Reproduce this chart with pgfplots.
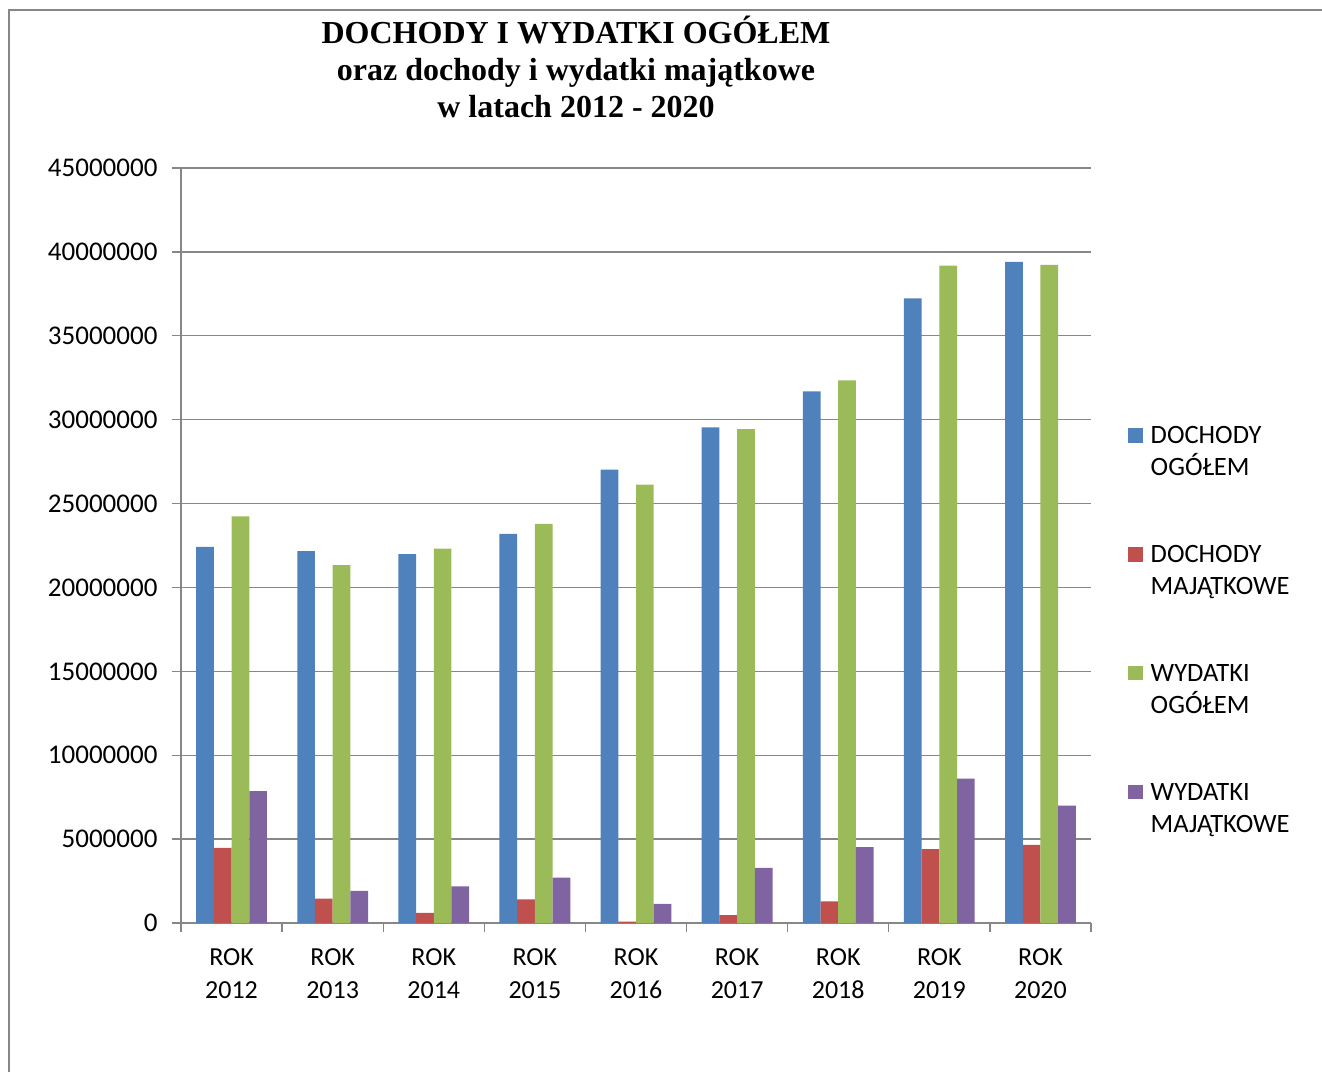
\documentclass[border=0pt]{standalone}
\usepackage{fontspec}
\setmainfont{Carlito}
\newfontfamily\titlefont{Liberation Serif}
\usepackage{pgfplots}
\usepackage{pgfplotstable}
\pgfplotsset{compat=1.18}

\definecolor{cblue}{HTML}{4F81BD}
\definecolor{cred}{HTML}{C0504D}
\definecolor{cgreen}{HTML}{9BBB59}
\definecolor{cpurple}{HTML}{8064A2}
\definecolor{gridgray}{HTML}{878787}

% idx: 0 = 2012 ... 8 = 2020
\pgfplotstableread{
idx dochog dochmaj wydog wydmaj
0 22420000 4480000 24230000 7860000
1 22160000 1450000 21330000 1920000
2 21980000  600000 22320000 2180000
3 23190000 1410000 23790000 2700000
4 27020000   80000 26130000 1140000
5 29540000  470000 29440000 3290000
6 31690000 1290000 32340000 4530000
7 37230000 4400000 39180000 8600000
8 39410000 4660000 39230000 6990000
}\dane

\begin{document}
\begin{tikzpicture}
\begin{axis}[
    at={(181pt,149pt)}, anchor=south west,
    scale only axis,
    width=910pt, height=755pt,
    ybar=0pt, bar width=17.7pt,
    legend image code/.code={\draw[#1,/tikz/.cd,draw=none] (0pt,1pt) rectangle (14.5pt,15.5pt);},
    xmin=-0.5, xmax=8.5,
    ymin=0, ymax=45000000,
    ytick={0,5000000,...,45000000},
    scaled y ticks=false,
    yticklabel style={/pgf/number format/.cd, fixed, 1000 sep={}, assume math mode=true,
        /tikz/.cd, font=\fontsize{27}{33}\selectfont, xshift=-11pt},
    xtick={0,...,8},
    xticklabels={{ROK\\2012},{ROK\\2013},{ROK\\2014},{ROK\\2015},{ROK\\2016},{ROK\\2017},{ROK\\2018},{ROK\\2019},{ROK\\2020}},
    xticklabel style={align=center, font=\fontsize{26}{33}\selectfont, yshift=-13pt},
    minor xtick={-0.5,0.5,...,8.5},
    major x tick style={draw=none},
    tick align=outside,
    major tick length=9pt, minor tick length=9pt,
    tick style={draw=gridgray, line width=1.3pt},
    axis x line*=bottom, axis y line*=left,
    axis line style={draw=gridgray, line width=1.3pt, -},
    ymajorgrids,
    grid style={draw=gridgray, line width=1.3pt},
    legend style={at={(1.0407,0.6649)}, anchor=north west, draw=none, fill=none,
        inner sep=0pt, row sep=95pt, column sep=8pt,
        font=\fontsize{26.5}{32}\selectfont,
        nodes={inner sep=0pt}, cells={anchor=base west}},
]
\addplot[fill=cblue, draw=none] table[x=idx, y=dochog] {\dane};
\addlegendentry{\begin{tabular}[t]{@{}l@{}}DOCHODY\\OGÓŁEM\end{tabular}}
\addplot[fill=cred, draw=none] table[x=idx, y=dochmaj] {\dane};
\addlegendentry{\begin{tabular}[t]{@{}l@{}}DOCHODY\\MAJĄTKOWE\end{tabular}}
\addplot[fill=cgreen, draw=none] table[x=idx, y=wydog] {\dane};
\addlegendentry{\begin{tabular}[t]{@{}l@{}}WYDATKI\\OGÓŁEM\end{tabular}}
\addplot[fill=cpurple, draw=none] table[x=idx, y=wydmaj] {\dane};
\addlegendentry{\begin{tabular}[t]{@{}l@{}}WYDATKI\\MAJĄTKOWE\end{tabular}}
\end{axis}

% title
\node[anchor=base, inner sep=0pt] at (576pt,1028.4pt)
  {\titlefont\bfseries\fontsize{32}{37}\selectfont
   \begin{tabular}[t]{@{}c@{}}DOCHODY I WYDATKI OGÓŁEM\\oraz dochody i wydatki majątkowe\\w latach 2012 - 2020\end{tabular}};

% chart area frame (cut at right and bottom)
\draw[gridgray, line width=1.3pt] (9pt,0pt) -- (9pt,1062pt) -- (1322pt,1062pt);

\pgfresetboundingbox
\useasboundingbox (0pt,0pt) rectangle (1322pt,1072pt);
\end{tikzpicture}
\end{document}
